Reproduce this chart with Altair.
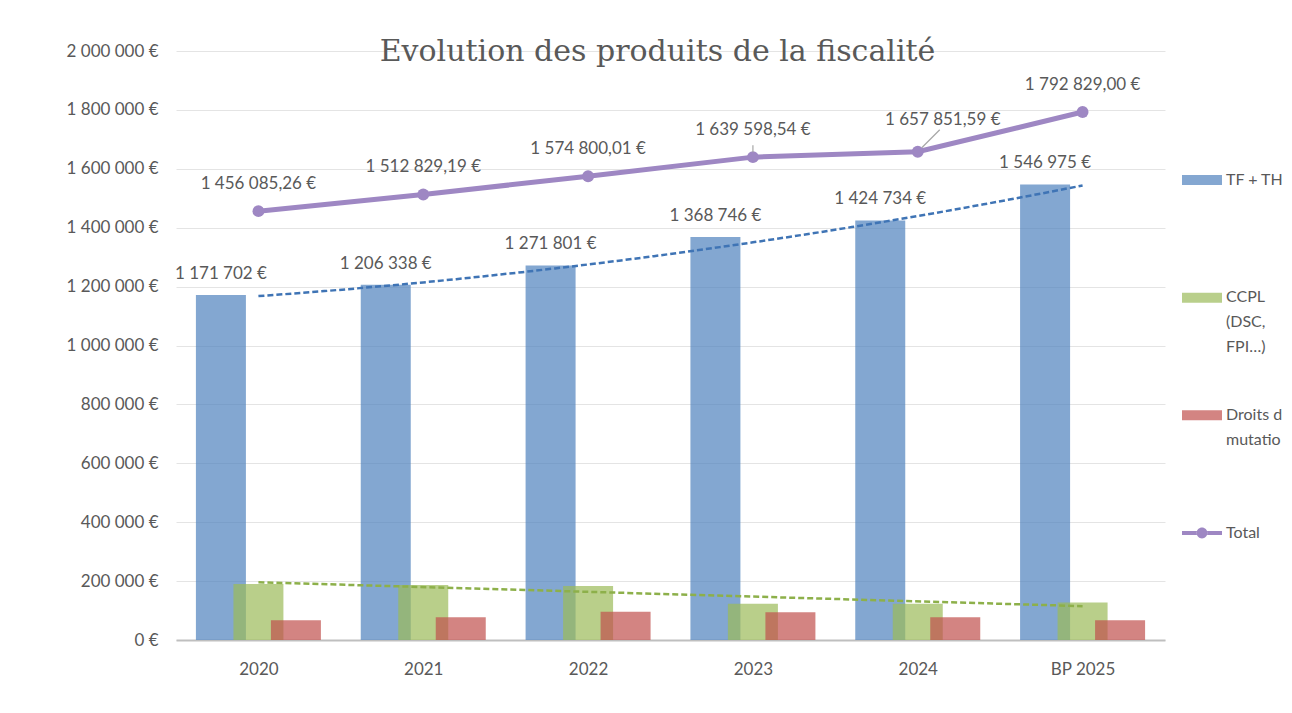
import altair as alt
import pandas as pd

# ---- data ----
years = ["2020", "2021", "2022", "2023", "2024", "BP 2025"]
tf_th = [1171702, 1206338, 1271801, 1368746, 1424734, 1546975]
ccpl = [190000, 187000, 183000, 123000, 123000, 127000]
droits = [67000, 77000, 96000, 94000, 77000, 67000]
total = [1456085.26, 1512829.19, 1574800.01, 1639598.54, 1657851.59, 1792829.00]

legend_keys = ["tf", "ccpl", "dm", "total"]
legend_labels = ["TF + TH", "CCPL\n(DSC,\nFPI…)", "Droits de\nmutation", "Total"]
y_ticks = list(range(0, 2000001, 200000))

df = pd.DataFrame({
    "year": years,
    "idx": list(range(len(years))),
    "tf_th": tf_th,
    "ccpl": ccpl,
    "droits": droits,
    "total": total,
})
leg_df = pd.DataFrame({"key": legend_keys, "label": legend_labels})

BLUE = "#4F81BD"
GREEN = "#9BBB59"
RED = "#C0504D"
PURPLE = "#9E87C3"
TXT = "#595959"
FONT = "Lato"

W, H = 989, 589

x_axis = alt.Axis(title=None, ticks=False, labelPadding=21, labelFontSize=17,
                  labelColor=TXT, labelFont=FONT, domainColor="#BFBFBF",
                  domainWidth=2, labelAngle=0, grid=False)
xscale = alt.Scale(type="point", padding=0.5)
xs = alt.X("year:N", sort=years, scale=xscale, axis=x_axis)
xs_top = alt.X("year:N", sort=years, scale=xscale, axis=None)

y_axis = alt.Axis(title=None, values=y_ticks,
                  labelExpr="replace(format(datum.value, ',d'), regexp(',', 'g'), ' ') + ' €'",
                  domain=False, ticks=False, labelPadding=18, labelFontSize=17,
                  labelColor=TXT, labelFont=FONT, gridColor="#E4E4E4", gridWidth=1,
                  minExtent=120, maxExtent=120)

def Y(field):
    return alt.Y(f"{field}:Q", scale=alt.Scale(domain=[0, 2000000]), axis=y_axis)

base = alt.Chart(df)

blue_bars = base.mark_bar(width=50, xOffset=-37.5, color=BLUE, opacity=0.7).encode(
    x=xs, y=Y("tf_th"))
green_bars = base.mark_bar(width=50, xOffset=0, color=GREEN, opacity=0.7).encode(
    x=xs, y=Y("ccpl"))
red_bars = base.mark_bar(width=50, xOffset=37.5, color=RED, opacity=0.7).encode(
    x=xs, y=Y("droits"))

total_line = base.mark_line(color=PURPLE, strokeWidth=5).encode(x=xs_top, y=Y("total"))
total_pts = base.mark_circle(size=140, color=PURPLE, opacity=1).encode(x=xs_top, y=Y("total"))

blue_labels = base.transform_calculate(
    lab="replace(format(datum.tf_th, ',d'), regexp(',', 'g'), ' ') + ' €'"
).mark_text(xOffset=-37.5, dy=-21, font=FONT, fontSize=17, color=TXT).encode(
    x=xs_top, y=Y("tf_th"), text="lab:N")

tot_calc = "replace(replace(format(datum.total, ',.2f'), regexp(',', 'g'), ' '), '.', ',') + ' €'"
total_labels = base.transform_filter("datum.year != '2024'").transform_calculate(
    lab=tot_calc
).mark_text(dy=-27, font=FONT, fontSize=17, color=TXT).encode(
    x=xs_top, y=Y("total"), text="lab:N")
total_label_24 = base.transform_filter("datum.year == '2024'").transform_calculate(
    lab=tot_calc
).mark_text(dx=25, dy=-32, font=FONT, fontSize=17, color=TXT).encode(
    x=xs_top, y=Y("total"), text="lab:N")

leader_24 = base.transform_filter("datum.year == '2024'").mark_rule(
    color="#A6A6A6", strokeWidth=1.2, xOffset=4, yOffset=-4, x2Offset=22, y2Offset=-22
).encode(x=xs_top, x2="year:N", y=Y("total"), y2="total:Q")
leader_23 = base.transform_filter("datum.year == '2023'").mark_rule(
    color="#A6A6A6", strokeWidth=1.2, yOffset=-5, y2Offset=-12
).encode(x=xs_top, y=Y("total"), y2="total:Q")

tx = alt.X("idx:Q", scale=alt.Scale(domain=[-0.5, 5.5]), axis=None)
blue_trend = base.transform_regression(
    "idx", "tf_th", method="poly", order=2, extent=[0, 5]
).mark_line(color="#3F74B5", strokeDash=[6, 3], strokeWidth=2.5).encode(x=tx, y=Y("tf_th"))
green_trend = base.transform_regression(
    "idx", "ccpl", method="linear", extent=[0, 5]
).mark_line(color="#8DB04A", strokeDash=[6, 3], strokeWidth=2.5).encode(x=tx, y=Y("ccpl"))

inner = alt.layer(blue_bars, green_bars, red_bars)
trends = alt.layer(blue_trend, green_trend)
tops = alt.layer(total_line, total_pts, leader_23, leader_24,
                 blue_labels, total_labels, total_label_24)

main = alt.layer(inner, trends, tops).resolve_scale(x="independent").properties(
    width=W, height=H,
    title=alt.TitleParams("Evolution des produits de la fiscalité", font="DejaVu Serif",
                          fontSize=30, fontWeight="normal", color=TXT, anchor="middle",
                          dx=-13, offset=-25))

# ---- legend panel ----
rect_path = "M -1 -0.25 L 1 -0.25 L 1 0.25 L -1 0.25 Z"
line_dot_path = ("M -1 -0.1 L -0.26 -0.1 L -0.26 0.1 L -1 0.1 Z "
                 "M 0.26 -0.1 L 1 -0.1 L 1 0.1 L 0.26 0.1 Z "
                 "M -0.27 0 A 0.27 0.27 0 1 0 0.27 0 A 0.27 0.27 0 1 0 -0.27 0 Z")
paths = [rect_path, rect_path, rect_path, line_dot_path]
leg_colors = ["#84A7D1", "#B9CF8B", "#D38482", PURPLE]
leg_y = alt.Y("key:N", sort=legend_keys,
              scale=alt.Scale(type="point", range=[129, 482], padding=0), axis=None)
leg_base = alt.Chart(leg_df)
leg_sym = leg_base.mark_point(filled=True, opacity=1, size=1600, strokeWidth=0).encode(
    x=alt.value(37), y=leg_y,
    shape=alt.Shape("key:N", scale=alt.Scale(domain=legend_keys, range=paths), legend=None),
    color=alt.Color("key:N", scale=alt.Scale(domain=legend_keys, range=leg_colors), legend=None))
leg_txt = leg_base.mark_text(align="left", baseline="line-top", dy=-12.5, lineBreak="\n",
                             lineHeight=25, font=FONT, fontSize=16, color=TXT,
                             limit=60, ellipsis="\u200b").encode(
    x=alt.value(61), y=leg_y, text="label:N")
legend = alt.layer(leg_sym, leg_txt).properties(width=115, height=H)

chart = alt.hconcat(main, legend, spacing=0).properties(
    padding={"left": 48, "top": 29, "right": 0, "bottom": 5},
    background="white",
).configure_view(strokeWidth=0)

chart.save("out.html", embed_options={"renderer": "svg", "actions": False})
